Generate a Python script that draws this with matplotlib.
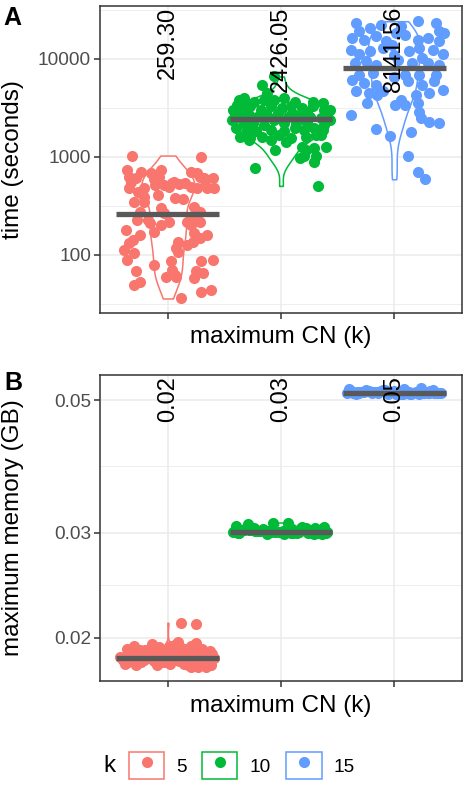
import numpy as np
import matplotlib
matplotlib.use('Agg')
import matplotlib.pyplot as plt
from matplotlib.lines import Line2D
from matplotlib.patches import Rectangle
from matplotlib.legend_handler import HandlerTuple
from matplotlib.ticker import NullFormatter

plt.rcParams['font.family'] = ['Liberation Sans', 'DejaVu Sans']

k_levels = ['5', '10', '15']
colours = ['#F8766D', '#00BA38', '#619CFF']

# run time (seconds) for each maximum CN, with the jitter of each point
time_k5 = [1032, 1008, 737, 630, 708, 606, 681, 737, 630, 708, 630, 681, 606, 606,
           479, 560, 479, 518, 518, 539, 526, 539, 498, 479, 479, 479, 410, 498,
           350, 394, 350, 379, 373, 277, 299, 311, 277, 266, 228, 246, 219,
           228, 211, 219, 202, 202, 219, 173, 180, 160, 142, 132, 166, 148, 160,
           137, 137, 117, 113, 104, 108, 127, 89, 79, 86, 86, 89, 68, 70, 62, 68,
           65, 59, 58, 53, 49, 42, 44, 36, 60, 560, 590, 520, 440]
jit_k5 = [-0.32, 0.29, -0.36, -0.34, -0.24, -0.28, -0.15, -0.06, -0.08, 0.20, 0.28, 0.26, 0.40, 0.32,
          -0.34, -0.33, -0.21, -0.11, -0.03, 0.04, 0.10, 0.15, 0.20, 0.26, 0.35, 0.41, -0.09, 0.01,
          -0.30, -0.21, -0.21, 0.06, 0.13, -0.25, -0.06, 0.23, 0.28, -0.03, -0.18, 0.22, 0.17,
          -0.27, -0.16, 0.01, -0.06, 0.20, 0.28, -0.12, -0.37, -0.25, -0.31, -0.34, 0.23, 0.28, 0.35,
          0.22, 0.09, 0.07, -0.39, -0.30, 0.09, 0.17, -0.36, -0.12, 0.03, 0.29, 0.40, -0.28, 0.04, 0.06, 0.25,
          0.31, -0.02, 0.23, -0.25, -0.30, 0.29, 0.38, 0.12, 0.07, 0.05, -0.12, 0.33, -0.26]

time_k10 = [5430, 6610, 4470, 3820, 3970, 3670, 3820, 3820, 3970, 3670, 3670, 3530, 3400,
            3020, 3140, 3270, 3020, 3270, 3140, 3270, 3140, 3270, 3020, 2790,
            2580, 2690, 2580, 2690, 2790, 2580, 2690, 2580, 2480, 2210, 2120, 2210, 2210, 2120,
            1960, 1890, 1820, 1890, 1820, 1960, 1890, 1960, 1890, 1610, 1550, 1610, 1670, 1550,
            1610, 1670, 1490, 1490, 1430, 1270, 1220, 1270, 1180, 1180, 970, 1010, 1010, 895,
            778, 506, 2390, 2390, 2900, 2390, 2790, 2210, 2210, 3020, 2790, 1670]
jit_k10 = [-0.17, -0.06, -0.12, -0.37, -0.33, -0.24, -0.15, -0.06, 0.03, 0.12, 0.28, 0.37, -0.39,
           -0.42, -0.34, -0.27, -0.18, -0.09, 0.01, 0.09, 0.19, 0.28, 0.38, 0.41,
           -0.39, -0.28, -0.21, -0.12, -0.03, 0.06, 0.17, 0.26, 0.35, -0.33, -0.15, 0.13, 0.23, 0.38,
           -0.40, -0.30, -0.22, -0.09, 0.03, 0.12, 0.20, 0.29, 0.37, -0.36, -0.27, -0.17, -0.02, 0.09,
           0.22, 0.35, -0.28, -0.09, 0.04, 0.19, 0.29, 0.40, -0.05, 0.22, 0.17, 0.20, 0.31, 0.29,
           -0.23, 0.33, 0.43, -0.43, 0.23, -0.06, 0.10, -0.25, 0.03, 0.43, -0.33, 0.31]

time_k15 = [23300, 19100, 20700, 22400, 21500, 24200, 23300, 19100, 16400, 15700, 17000,
            15100, 17700, 15700, 16400, 15100, 18400, 12400, 11100, 12000, 12900, 12000,
            12900, 12400, 11100, 10200, 9100, 9460, 8750, 9100, 9100, 8750, 6920, 7190, 6920,
            6920, 6920, 6150, 5690, 5470, 5920, 5470, 5920, 4680, 4500, 4680, 4330, 4500, 4860,
            4300, 3530, 3400, 3400, 3820, 3530, 2900, 2480, 2290, 2210, 2690, 1910, 1640,
            1810, 1010, 708, 592, 11000, 14000, 9800, 6500, 18500]
jit_k15 = [-0.34, -0.31, -0.21, -0.12, 0.06, 0.21, 0.37, 0.40, -0.37, -0.27, -0.16,
           -0.07, 0.10, 0.21, 0.30, 0.40, 0.44, -0.38, -0.31, -0.21, -0.10, 0.13,
           0.22, 0.34, 0.43, 0.25, -0.35, -0.25, -0.16, 0.16, 0.30, 0.40, -0.31, -0.19, 0.10,
           0.22, 0.37, -0.37, -0.27, -0.16, 0.12, 0.25, 0.35, -0.34, -0.22, -0.10, 0.19, 0.31, 0.43,
           -0.15, -0.24, 0.01, 0.10, 0.06, 0.21, 0.22, 0.24, 0.31, 0.40, -0.38, -0.16, -0.04,
           0.15, 0.12, 0.21, 0.27, 0.00, -0.02, 0.03, 0.00, 0.02]

# peak memory (GB) for each maximum CN, with the jitter of each point
mem_k5 = [0.0181, 0.0184, 0.0186, 0.0189, 0.0183, 0.0180, 0.0187, 0.0185, 0.0190, 0.0182,
          0.0188, 0.0184, 0.0179, 0.0186, 0.0192, 0.0183, 0.0185, 0.0181, 0.0189, 0.0187,
          0.0184, 0.0191, 0.0182, 0.0186, 0.0180, 0.0188, 0.0185, 0.0194, 0.0183, 0.0187,
          0.0181, 0.0186, 0.0189, 0.0184, 0.0196, 0.0182, 0.0185, 0.0190, 0.0183, 0.0188,
          0.0180, 0.0186, 0.0184, 0.0193, 0.0187, 0.0182, 0.0185, 0.0189, 0.0181, 0.0197,
          0.0184, 0.0186, 0.0179, 0.0188, 0.0183, 0.0191, 0.0185, 0.0212, 0.0211, 0.0186,
          0.0193, 0.0195, 0.0191, 0.0192, 0.0194, 0.0190, 0.0180, 0.0179,
          0.0192, 0.0195, 0.0190, 0.0193, 0.0191, 0.0194, 0.0192, 0.0190]
jit_mem_k5 = [-0.38, -0.21, 0.05, 0.31, -0.12, 0.18, -0.33, 0.40, 0.22, -0.05,
              0.12, -0.40, 0.27, -0.26, 0.16, 0.36, -0.16, 0.02, -0.29, 0.33,
              0.08, -0.09, -0.35, 0.24, 0.38, -0.19, 0.29, 0.20, -0.02, -0.31,
              0.14, 0.35, -0.23, -0.07, 0.25, 0.30, -0.37, -0.14, 0.10, 0.03,
              -0.28, -0.42, 0.19, 0.11, -0.11, -0.24, 0.41, 0.06, 0.26, 0.09,
              -0.34, -0.17, 0.34, 0.39, -0.03, 0.28, -0.30, 0.12, 0.25, 0.00,
              -0.08, 0.07, -0.20, 0.30, -0.30, 0.17, -0.10, 0.20,
              -0.36, -0.14, 0.37, 0.22, -0.25, 0.02, 0.12, -0.04]

mem_k10 = [0.0300, 0.0302, 0.0304, 0.0301, 0.0299, 0.0306, 0.0303, 0.0300, 0.0305, 0.0301,
           0.0302, 0.0308, 0.0300, 0.0303, 0.0301, 0.0299, 0.0304, 0.0302, 0.0310, 0.0300,
           0.0305, 0.0301, 0.0303, 0.0300, 0.0307, 0.0302, 0.0299, 0.0304, 0.0301, 0.0306,
           0.0300, 0.0303, 0.0302, 0.0311, 0.0301, 0.0305, 0.0300, 0.0302, 0.0304, 0.0299,
           0.0303, 0.0301, 0.0307, 0.0300, 0.0302, 0.0305, 0.0301, 0.0312, 0.0303, 0.0300]
jit_mem_k10 = [-0.38, -0.21, 0.05, 0.31, -0.12, 0.18, -0.33, 0.40, 0.22, -0.05,
               0.12, -0.40, 0.27, -0.26, 0.16, 0.36, -0.16, 0.02, -0.29, 0.33,
               0.08, -0.09, -0.35, 0.24, 0.38, -0.19, 0.29, 0.20, -0.02, -0.31,
               0.14, 0.35, -0.23, -0.07, 0.25, 0.30, -0.37, -0.14, 0.10, 0.03,
               -0.28, -0.42, 0.19, 0.11, -0.11, -0.24, 0.41, 0.06, 0.26, 0.09]

mem_k15 = [0.0514, 0.0516, 0.0513, 0.0518, 0.0515, 0.0520, 0.0514, 0.0517, 0.0513, 0.0522,
           0.0515, 0.0516, 0.0514, 0.0519, 0.0513, 0.0517, 0.0515, 0.0521, 0.0514, 0.0516,
           0.0518, 0.0513, 0.0515, 0.0524, 0.0514, 0.0517, 0.0516, 0.0513, 0.0519, 0.0515,
           0.0514, 0.0520, 0.0516, 0.0513, 0.0518, 0.0515, 0.0514, 0.0522, 0.0516, 0.0513,
           0.0517, 0.0515, 0.0519, 0.0514, 0.0516, 0.0521, 0.0513, 0.0518, 0.0515, 0.0514]
jit_mem_k15 = [0.21, -0.33, 0.08, -0.12, 0.37, -0.25, 0.30, -0.02, 0.15, -0.40,
               0.26, -0.18, 0.41, -0.07, 0.02, -0.30, 0.11, 0.34, -0.36, 0.19,
               -0.22, 0.06, -0.14, 0.24, 0.38, -0.27, 0.13, -0.05, 0.32, -0.42,
               0.17, -0.10, 0.28, -0.34, 0.00, 0.39, -0.20, 0.09, -0.29, 0.22,
               -0.15, 0.35, -0.38, 0.04, 0.27, -0.08, 0.14, -0.24, 0.31, -0.31]

time_median = [259.30, 2426.05, 8141.56]
mem_median = [0.0185, 0.0301, 0.0514]

time_groups = [(time_k5, jit_k5), (time_k10, jit_k10), (time_k15, jit_k15)]
mem_groups = [(mem_k5, jit_mem_k5), (mem_k10, jit_mem_k10), (mem_k15, jit_mem_k15)]


def density(vals):
    # gaussian kde on log10 values, nrd0 bandwidth, trimmed to the data range
    z = np.log10(np.asarray(vals, dtype=float))
    n = len(z)
    q75, q25 = np.percentile(z, [75, 25])
    bw = 0.9 * min(z.std(ddof=1), (q75 - q25) / 1.34) * n ** -0.2
    grid = np.linspace(z.min(), z.max(), 512)
    d = np.exp(-0.5 * ((grid[:, None] - z[None, :]) / bw) ** 2).sum(1)
    d = d / (n * bw * np.sqrt(2 * np.pi))
    return grid, d


def panel(ax, groups, medians, fmt):
    dens = [density(v) for v, _ in groups]
    dmax = max(d.max() for _, d in dens)
    for i, ((vals, jit), (grid, d)) in enumerate(zip(groups, dens)):
        pos = i + 1
        half = 0.45 * d / dmax
        ax.fill_betweenx(10 ** grid, pos - half, pos + half, facecolor='white',
                         edgecolor=colours[i], lw=1.1, zorder=2)
        ax.scatter(pos + np.asarray(jit), vals, s=64, color=colours[i],
                   linewidths=0, zorder=3)
        ax.hlines(medians[i], pos - 0.455, pos + 0.455, colors='#595959', lw=3.8, zorder=4)
        ax.annotate(fmt % medians[i], (pos, 1), xycoords=ax.get_xaxis_transform(),
                    xytext=(0, -0.5), textcoords='offset points', rotation=90,
                    ha='center', va='top', fontsize=17, zorder=5)

    ax.set_yscale('log')
    ax.set_xlim(0.4, 3.6)
    ax.set_xticks([1, 2, 3])
    ax.set_xticklabels([])
    ax.yaxis.set_minor_formatter(NullFormatter())
    ax.grid(True, which='major', color='#EBEBEB', lw=1.1)
    ax.grid(True, which='minor', axis='y', color='#EBEBEB', lw=0.6)
    ax.set_axisbelow(True)
    for s in ax.spines.values():
        s.set_color('#333333')
        s.set_linewidth(1.1)
    ax.tick_params(which='major', length=4, width=1.1, color='#333333',
                   labelcolor='#4D4D4D', labelsize=13.7, pad=2.5)
    ax.tick_params(which='minor', length=0)
    ax.set_xlabel('maximum CN (k)', fontsize=17.5)


fig = plt.figure(figsize=(4.63, 7.87), dpi=100)
W, H = 463, 787

axA = fig.add_axes([100 / W, 1 - 313 / H, 362 / W, 307 / H])
panel(axA, time_groups, time_median, '%.2f')
axA.set_ylim(25.6, 34600)
axA.set_yticks([100, 1000, 10000])
axA.set_yticklabels(['100', '1000', '10000'])
axA.set_yticks([10 ** 1.5, 10 ** 2.5, 10 ** 3.5, 10 ** 4.5], minor=True)
axA.set_ylabel('time (seconds)', fontsize=17.5)
axA.xaxis.set_label_coords(0.5, -0.078)
axA.xaxis.label.set_va('center')
axA.yaxis.set_label_coords(-0.24, 0.5)
axA.yaxis.label.set_va('center')

axB = fig.add_axes([100 / W, 1 - 681 / H, 362 / W, 306 / H])
panel(axB, mem_groups, mem_median, '%.2f')
axB.set_ylim(0.01694, 0.0551)
axB.set_yticks([0.02, 0.03, 0.05])
axB.set_yticklabels(['0.02', '0.03', '0.05'])
axB.set_yticks([np.sqrt(0.02 * 0.03), np.sqrt(0.03 * 0.05)], minor=True)
axB.set_ylabel('maximum memory (GB)', fontsize=17.5)
axB.xaxis.set_label_coords(0.5, -0.082)
axB.xaxis.label.set_va('center')
axB.yaxis.set_label_coords(-0.24, 0.5)
axB.yaxis.label.set_va('center')

fig.text(3 / W, 1 - 6 / H, 'A', fontsize=18, fontweight='bold', va='top')
fig.text(4 / W, 1 - 371 / H, 'B', fontsize=18, fontweight='bold', va='top')

handles = [(Rectangle((0, 0), 1, 1, facecolor='white', edgecolor=c, lw=1.1),
            Line2D([], [], marker='o', ls='', color=c, markersize=8, markeredgewidth=0))
           for c in colours]
fig.legend(handles, k_levels, handler_map={tuple: HandlerTuple(ndivide=1, pad=0)},
           ncol=3, frameon=False, loc='center left',
           bbox_to_anchor=(129 / W, 1 - 765.5 / H), borderaxespad=0, borderpad=0,
           handlelength=1.85, handleheight=1.85, handletextpad=0.62,
           columnspacing=0.83, fontsize=13.7)
fig.text(103 / W, 1 - 766 / H, 'k', fontsize=17.5, va='center', ha='left')

fig.savefig('out.png', dpi=100)
